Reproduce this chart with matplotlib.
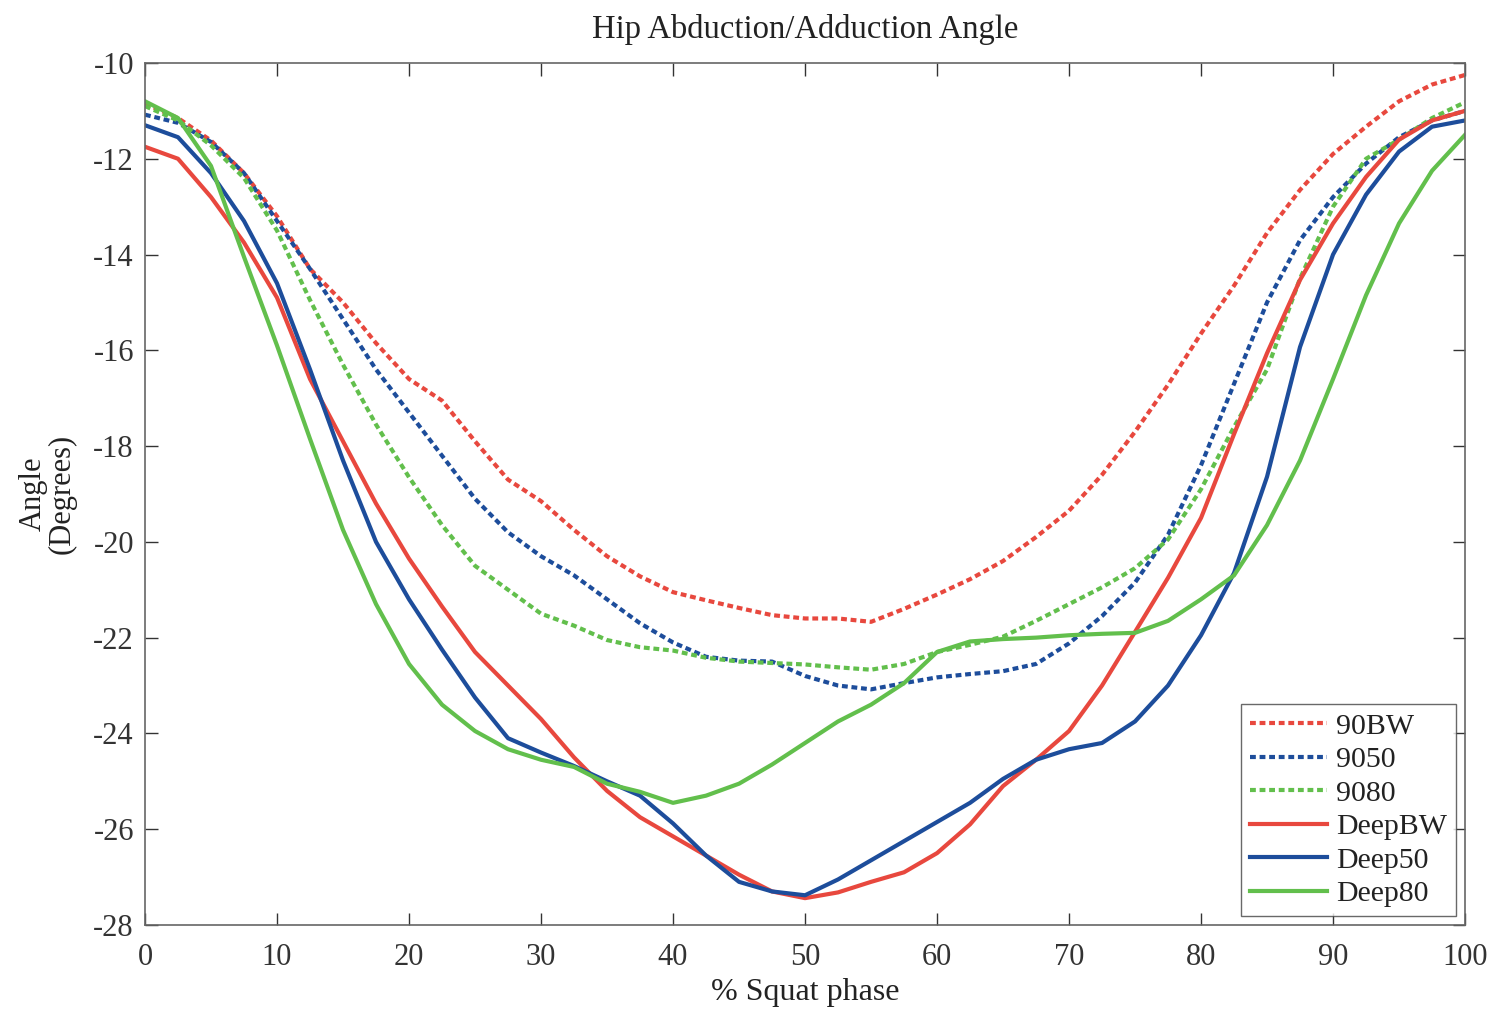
import matplotlib
matplotlib.use("Agg")
import matplotlib.pyplot as plt
import numpy as np

# % squat phase (common grid for all series)
phase = np.arange(0, 100.1, 2.5)

# hip abduction/adduction angle, degrees
bw_90 = [-10.85, -11.15, -11.62, -12.3, -13.2, -14.3, -15.0, -15.85, -16.6, -17.05,
         -17.9, -18.7, -19.15, -19.75, -20.3, -20.72, -21.05, -21.22, -21.38, -21.53,
         -21.6, -21.6, -21.67, -21.4, -21.1, -20.78, -20.4, -19.9, -19.35, -18.6,
         -17.7, -16.72, -15.65, -14.65, -13.55, -12.65, -11.9, -11.33, -10.8, -10.45, -10.25]
w50_90 = [-11.08, -11.25, -11.65, -12.3, -13.3, -14.3, -15.35, -16.4, -17.3, -18.2,
          -19.1, -19.8, -20.3, -20.7, -21.2, -21.7, -22.1, -22.4, -22.48, -22.5,
          -22.8, -23.0, -23.08, -22.95, -22.83, -22.76, -22.7, -22.55, -22.12, -21.55,
          -20.85, -19.85, -18.4, -16.7, -15.0, -13.7, -12.8, -12.1, -11.55, -11.2, -11.0]
w80_90 = [-10.9, -11.2, -11.72, -12.4, -13.5, -14.95, -16.3, -17.55, -18.65, -19.65,
          -20.5, -21.0, -21.5, -21.75, -22.05, -22.2, -22.27, -22.42, -22.5, -22.53,
          -22.56, -22.62, -22.67, -22.55, -22.3, -22.15, -21.98, -21.65, -21.3, -20.95,
          -20.55, -19.95, -18.9, -17.6, -16.4, -14.5, -13.0, -12.0, -11.6, -11.15, -10.82]
bw_deep = [-11.75, -12.0, -12.8, -13.75, -14.9, -16.6, -17.9, -19.2, -20.35, -21.35,
           -22.3, -23.0, -23.7, -24.5, -25.2, -25.75, -26.15, -26.55, -26.95, -27.3,
           -27.44, -27.32, -27.1, -26.9, -26.5, -25.9, -25.1, -24.55, -23.95, -23.0,
           -21.88, -20.75, -19.5, -17.75, -16.06, -14.53, -13.35, -12.38, -11.6, -11.2, -11.0]
w50_deep = [-11.3, -11.55, -12.3, -13.3, -14.6, -16.4, -18.3, -20.0, -21.2, -22.25,
            -23.25, -24.1, -24.4, -24.68, -25.0, -25.3, -25.88, -26.55, -27.1, -27.3,
            -27.38, -27.05, -26.65, -26.25, -25.85, -25.45, -24.95, -24.55, -24.33, -24.2,
            -23.75, -23.0, -21.95, -20.65, -18.64, -15.93, -14.0, -12.75, -11.85, -11.33, -11.2]
w80_deep = [-10.8, -11.15, -12.15, -14.05, -15.9, -17.85, -19.75, -21.3, -22.55, -23.4,
            -23.95, -24.33, -24.55, -24.7, -25.05, -25.22, -25.45, -25.3, -25.05, -24.65,
            -24.2, -23.75, -23.4, -22.95, -22.3, -22.08, -22.03, -22.0, -21.95, -21.92,
            -21.9, -21.65, -21.2, -20.7, -19.65, -18.3, -16.6, -14.85, -13.35, -12.25, -11.5]

labels = ['90BW', '9050', '9080', 'DeepBW', 'Deep50', 'Deep80']
RED, BLUE, GREEN = '#e8483e', '#1d4d9b', '#62bf4c'

plt.rcParams['font.family'] = ['Liberation Serif', 'DejaVu Serif']
plt.rcParams['axes.unicode_minus'] = False

fig = plt.figure(figsize=(14.98, 10.11), dpi=100)
ax = fig.add_axes([0.0968, 0.0851, 0.8812, 0.8526])

dotted = (0, (1.4, 0.9))
series = [
    (bw_90, RED, dotted),
    (w50_90, BLUE, dotted),
    (w80_90, GREEN, dotted),
    (bw_deep, RED, '-'),
    (w50_deep, BLUE, '-'),
    (w80_deep, GREEN, '-'),
]
for (vals, col, ls), lab in zip(series, labels):
    ax.plot(phase, vals, color=col, linestyle=ls, linewidth=3.0, label=lab)

ax.set_xlim(0, 100)
ax.set_ylim(-28, -10)
ax.set_xticks(np.arange(0, 101, 10))
ax.set_yticks(np.arange(-28, -9, 2))
ax.tick_params(direction='in', length=9, width=1, top=True, right=True,
               labelsize=22, colors='#333333')
ax.tick_params(axis='x', pad=13)
ax.tick_params(axis='y', pad=8)
for sp in ax.spines.values():
    sp.set_color('#666666')
    sp.set_linewidth(1.2)

ax.set_title('Hip Abduction/Adduction Angle', fontsize=23.5, color='#222222', pad=18)
ax.set_xlabel('% Squat phase', fontsize=23, color='#222222', labelpad=4)
ax.set_ylabel('Angle\n(Degrees)', fontsize=22, color='#222222', labelpad=12,
              linespacing=1.0)

leg = ax.legend(loc='lower right', fontsize=21.5, handlelength=2.6,
                borderaxespad=0.3, labelspacing=0.22, handletextpad=0.3,
                borderpad=0.3, fancybox=False)
leg.get_frame().set_edgecolor('#444444')
leg.get_frame().set_linewidth(1.0)
for t in leg.get_texts():
    t.set_color('#222222')

plt.savefig('out.png', dpi=100)
